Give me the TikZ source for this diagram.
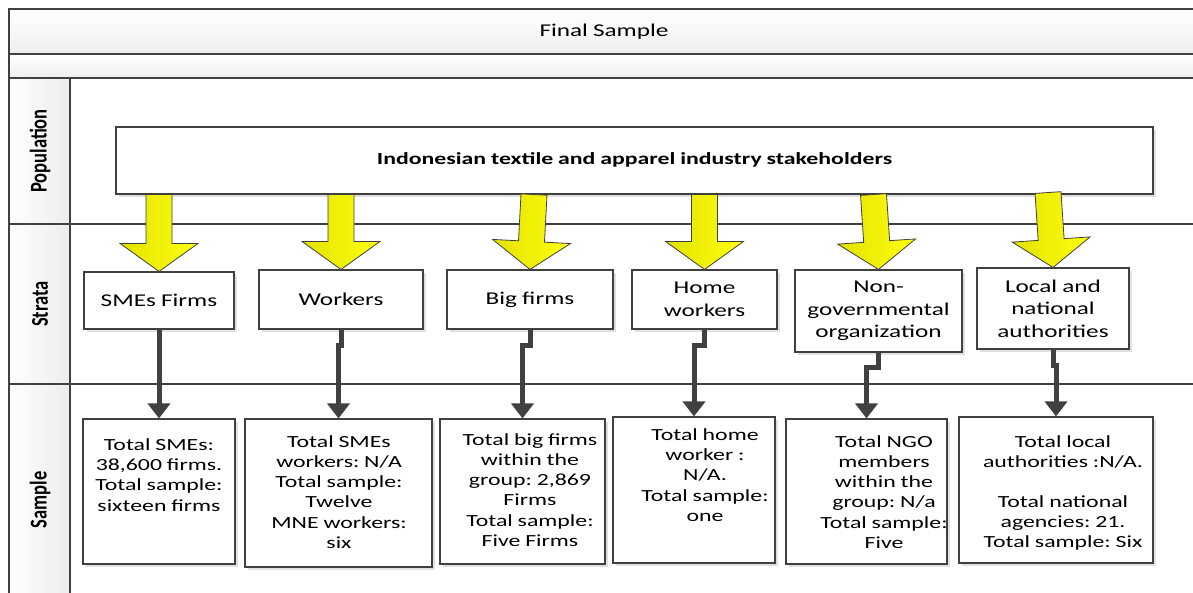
\documentclass[tikz,border=0pt]{standalone}
\usepackage{fontspec}
\setmainfont{Carlito}[FakeStretch=1.4, WordSpace=0.9]
\newfontfamily\lanefont{Carlito}
\usetikzlibrary{calc,arrows.meta,shadows}
\frenchspacing

\definecolor{edge}{HTML}{404040}
\definecolor{yelL}{HTML}{E2E200}
\definecolor{yelR}{HTML}{FFFF10}

\tikzset{
  frameline/.style={draw=edge, line width=1.3pt},
  boxshadow/.style={drop shadow={shadow xshift=3pt, shadow yshift=-3pt, opacity=0.12, fill=black}},
  popbox/.style={draw=edge, line width=1.1pt, fill=white, boxshadow, inner sep=0pt},
  stratabox/.style={draw=edge, line width=1.1pt, fill=white, boxshadow, inner sep=0pt,
    align=center, font=\fontsize{18}{22.5}\selectfont},
  samplebox/.style={draw=edge, line width=1.1pt, fill=white, boxshadow, inner sep=0pt},
  sampletext/.style={align=center, inner sep=0pt, font=\fontsize{17}{20.2}\selectfont},
  lanelabel/.style={rotate=90, inner sep=0pt, font=\lanefont\bfseries\fontsize{18.5}{20}\selectfont},
  yarrowst/.style={draw=edge, line width=0.8pt, left color=yelL, right color=yelR, line join=miter},
  darr/.style={draw=edge, line width=5pt, -{Triangle[width=22pt,length=15pt]}},
}

% yellow block arrow from #1 to #2
\newcommand\yarrow[2]{%
  \path coordinate (ya) at (#1) coordinate (yb) at (#2)
        coordinate (yh) at ($(#2)!28pt!(#1)$);
  \path[yarrowst] ($(ya)!13pt!90:(yb)$) -- ($(yh)!13pt!-90:(ya)$) -- ($(yh)!39pt!-90:(ya)$)
     -- (yb) -- ($(yh)!39pt!90:(ya)$) -- ($(yh)!13pt!90:(ya)$) -- ($(ya)!13pt!-90:(yb)$) -- cycle;}

\begin{document}
\begin{tikzpicture}[x=1pt, y=-1pt]
\useasboundingbox (0,0) rectangle (1193,593);
\clip (0,0) rectangle (1193,593);
\fill[white] (0,0) rectangle (1193,593);

% swimlane frame
\shade[top color=white, bottom color=gray!13, frameline] (9,9) rectangle (1200,54);
\shade[top color=white, bottom color=gray!13, frameline] (9,54) rectangle (1200,78);
\shade[left color=white, right color=gray!15, frameline] (9,78) rectangle (70,616);
\draw[frameline] (70,78) rectangle (1200,616);
\draw[frameline] (9,224) -- (1200,224);
\draw[frameline] (9,384) -- (1200,384);

\node (title) at (604,32) {\fontsize{18}{20}\selectfont Final Sample};

% lane labels
\node[lanelabel] (lpop) at (40,151) {\scalebox{1}[1.3]{Population}};
\node[lanelabel] (lstr) at (40,304) {\scalebox{1}[1.3]{Strata}};
\node[lanelabel] (lsam) at (40,500) {\scalebox{1}[1.3]{Sample}};

% population
\node[popbox, minimum width=1037pt, minimum height=67pt] (pop) at (634.5,160.5) {};
\node (poptext) at (634.5,160) {\bfseries\fontsize{17}{20}\selectfont Indonesian textile and apparel industry stakeholders};

% strata
\node[stratabox, minimum width=150pt, minimum height=57pt] (st1) at (159,300.5) {SMEs Firms};
\node[stratabox, minimum width=164pt, minimum height=59pt] (st2) at (341,299.5) {Workers};
\node[stratabox, minimum width=166pt, minimum height=59pt] (st3) at (530,299.5) {Big firms};
\node[stratabox, minimum width=145pt, minimum height=59pt] (st4) at (704.5,299.5) {Home\\workers};
\node[stratabox, minimum width=167pt, minimum height=82pt] (st5) at (878.5,311) {Non-\\governmental\\organization};
\node[stratabox, minimum width=152pt, minimum height=81pt] (st6) at (1053,308.5) {Local and\\national\\authorities};

% yellow arrows: population -> strata
\coordinate (ys1) at (pop.south -| st1.north);
\coordinate (ys2) at (pop.south -| st2.north);
\coordinate (ys3) at ($(pop.south -| st3.north)+(4,0)$);
\coordinate (ys4) at (pop.south -| st4.north);
\coordinate (ys5) at ($(pop.south -| st5.north)+(-5,0)$);
\coordinate (ys6) at ($(pop.south -| st6.north)+(-5,-2)$);
\yarrow{ys1}{st1.north}
\yarrow{ys2}{st2.north}
\yarrow{ys3}{st3.north}
\yarrow{ys4}{st4.north}
\yarrow{ys5}{st5.north}
\yarrow{ys6}{st6.north}

% samples
\node[samplebox, minimum width=152pt, minimum height=145pt] (sa1) at (159,491.5) {};
\node[samplebox, minimum width=187pt, minimum height=148pt] (sa2) at (338.5,493) {};
\node[samplebox, minimum width=165pt, minimum height=145pt] (sa3) at (522.5,491.5) {};
\node[samplebox, minimum width=162pt, minimum height=146pt] (sa4) at (694,490) {};
\node[samplebox, minimum width=161pt, minimum height=145pt] (sa5) at (866.5,491.5) {};
\node[samplebox, minimum width=194pt, minimum height=146pt] (sa6) at (1056,490) {};

\node[sampletext] (sa1t) at (159,475) {Total SMEs:\\38,600 firms.\\Total sample:\\ sixteen firms};
\node[sampletext] (sa2t) at (339,492) {Total SMEs\\workers: N/A\\Total sample:\\Twelve\\MNE workers:\\six};
\node[sampletext] (sa3t) at (530,490) {Total big firms\\within the\\group: 2,869\\Firms\\Total sample:\\Five Firms};
\node[sampletext] (sa4t) at (705,475) {Total home\\worker :\\N/A.\\Total sample:\\one};
\node[sampletext] (sa5t) at (884,492) {Total NGO\\members\\within the\\group: N/a\\Total sample:\\Five};
\node[sampletext] (sa6t) at (1063,493) {Total local\\authorities :N/A.\\[20pt]Total national\\agencies: 21.\\Total sample: Six};

% dark arrows: strata -> sample
\draw[darr] (st1.south) -- (sa1.north);
\draw[darr] (st2.south) -- ++(0,16) -| (sa2.north);
\draw[darr] (st3.south) -- ++(0,16) -| (sa3.north);
\draw[darr] (st4.south) -- ++(0,16) -| (sa4.north);
\draw[darr] (st5.south) -- ++(0,15) -| (sa5.north);
\draw[darr] (st6.south) -- ++(0,16) -| (sa6.north);
\end{tikzpicture}
\end{document}
